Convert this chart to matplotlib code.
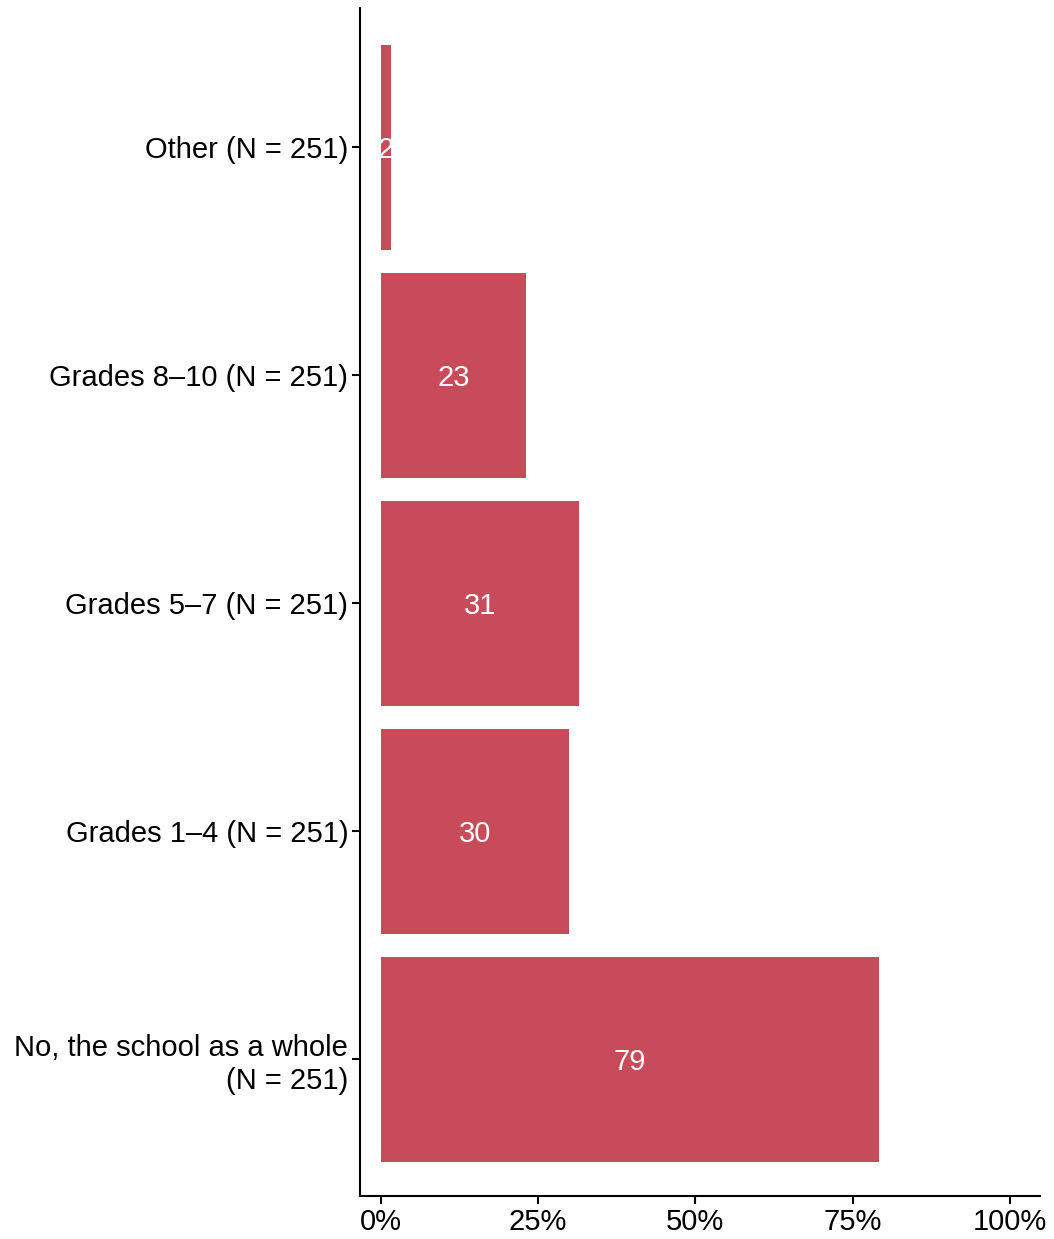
import matplotlib
matplotlib.use("Agg")
import matplotlib.pyplot as plt
from matplotlib.ticker import PercentFormatter

# data, bottom to top
categories = ["No, the school as a whole\n(N = 251)", "Grades 1–4 (N = 251)",
              "Grades 5–7 (N = 251)", "Grades 8–10 (N = 251)", "Other (N = 251)"]
values = [79.2, 29.9, 31.5, 23.1, 1.6]
labels = ["79", "30", "31", "23", "2"]

plt.rcParams['font.family'] = ['Liberation Sans', 'DejaVu Sans']

fig = plt.figure(figsize=(10.54, 12.39), dpi=100)
ax = fig.add_axes([0.3416, 0.0347, 0.6451, 0.9588])

y = range(len(categories))
bars = ax.barh(y, values, height=0.9, color='#C84B5A')
for b, lab in zip(bars, labels):
    ax.text(b.get_width() / 2, b.get_y() + b.get_height() / 2, lab,
            ha='center', va='center_baseline', color='white', fontsize=21)

ax.set_yticks(list(y))
ax.set_yticklabels(categories, fontsize=21, ha='right', linespacing=1.2)
ax.set_xticks([0, 25, 50, 75, 100])
ax.xaxis.set_major_formatter(PercentFormatter(decimals=0))
ax.tick_params(axis='x', labelsize=21, length=5.5, width=1.5, colors='black', pad=3)
ax.tick_params(axis='y', length=5.5, width=1.5, pad=3)
ax.set_xlim(-3.3, 104.8)
ax.set_ylim(-0.6, 4.61)

for s in ['top', 'right']:
    ax.spines[s].set_visible(False)
for s in ['left', 'bottom']:
    ax.spines[s].set_linewidth(1.5)

fig.savefig("out.png", dpi=100)
